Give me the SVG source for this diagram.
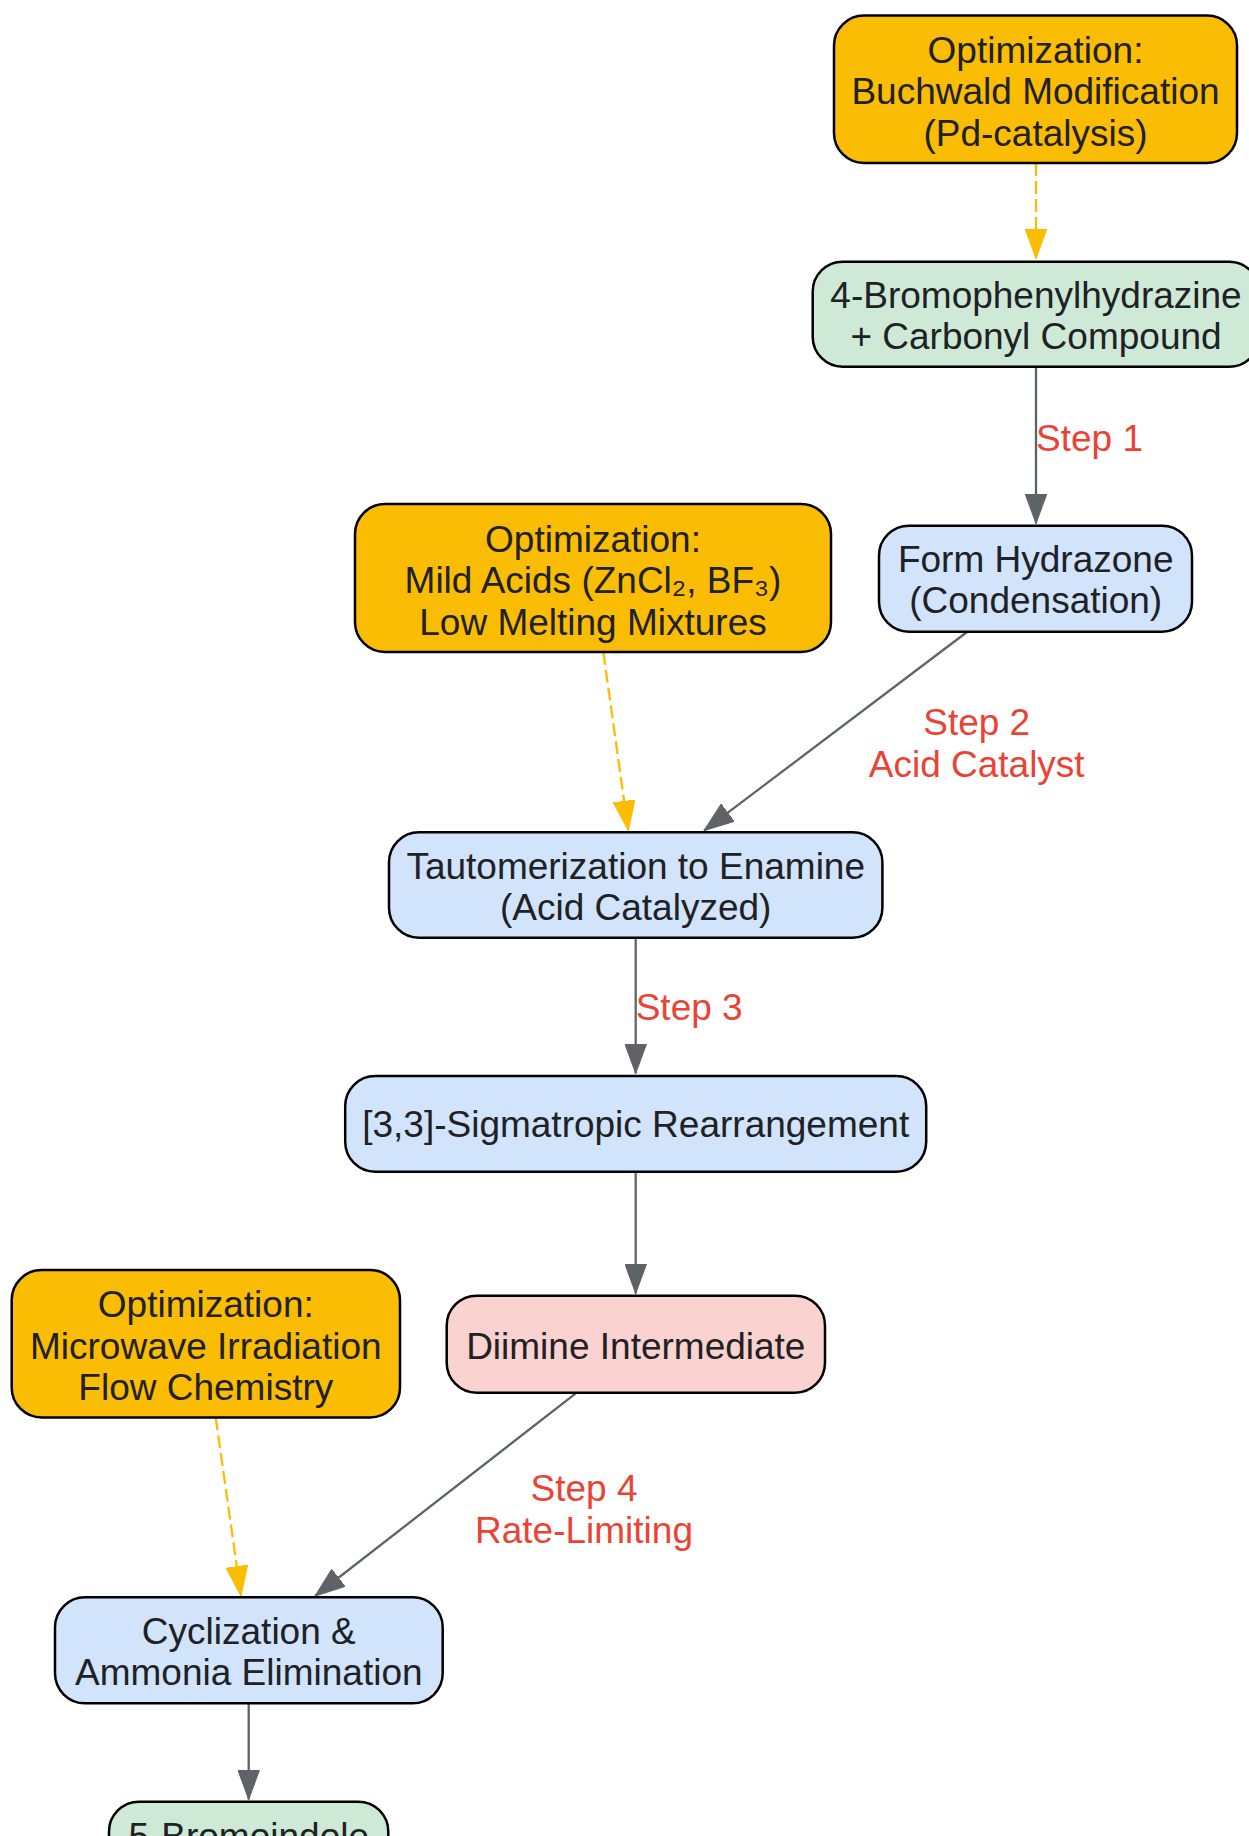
<svg xmlns="http://www.w3.org/2000/svg" width="1249" height="1836" viewBox="0 0 1249 1836">
<defs>
<style>
.node rect{stroke:#000;stroke-width:2.5}
.opt rect{fill:#fbbc04}
.start rect{fill:#ceead6}
.step rect{fill:#d2e3fc}
.inter rect{fill:#fad2cf}
text{font-family:"Liberation Sans",Arial,Helvetica,sans-serif;font-size:37px}
.node text{fill:#202124;text-anchor:middle}
.lbl{fill:#ea4335}
.e{fill:none;stroke:#5f6368;stroke-width:2.3}
.d{fill:none;stroke:#fbbc04;stroke-width:2.3;stroke-dasharray:13,5}
</style>
<marker id="ag" markerUnits="userSpaceOnUse" markerWidth="30" markerHeight="22" viewBox="0 0 30 22" refX="30" refY="11" orient="auto">
<path d="M0,0 L30,11 L0,22 z" fill="#5f6368" stroke="#5f6368" stroke-width="1"/>
</marker>
<marker id="ay" markerUnits="userSpaceOnUse" markerWidth="30" markerHeight="22" viewBox="0 0 30 22" refX="30" refY="11" orient="auto">
<path d="M0,0 L30,11 L0,22 z" fill="#fbbc04" stroke="#fbbc04" stroke-width="1"/>
</marker>
</defs>
<rect width="1249" height="1836" fill="#fff"/>
<g id="connectors">
<path class="d" d="M1036,163 L1036,258.5" marker-end="url(#ay)"/>
<path class="e" d="M1036,367 L1036,523.5" marker-end="url(#ag)"/>
<path class="e" d="M967,632 L704,830.7" marker-end="url(#ag)"/>
<path class="d" d="M603.3,652 L628.3,830.7" marker-end="url(#ay)"/>
<path class="e" d="M635.7,938 L635.7,1073.5" marker-end="url(#ag)"/>
<path class="e" d="M635.7,1172 L635.7,1293.5" marker-end="url(#ag)"/>
<path class="e" d="M576.7,1392.7 L315,1596" marker-end="url(#ag)"/>
<path class="d" d="M215.7,1417.5 L241,1596" marker-end="url(#ay)"/>
<path class="e" d="M248.7,1703.5 L248.7,1799.5" marker-end="url(#ag)"/>
<text class="lbl" x="1036" y="450.7">Step 1</text>
<text class="lbl" x="976.7" y="735" text-anchor="middle">Step 2</text>
<text class="lbl" x="976.7" y="776.7" text-anchor="middle">Acid Catalyst</text>
<text class="lbl" x="635.7" y="1020">Step 3</text>
<text class="lbl" x="584" y="1501" text-anchor="middle">Step 4</text>
<text class="lbl" x="584" y="1543" text-anchor="middle">Rate-Limiting</text>
</g>
<g id="opt-buchwald" class="node opt">
<rect x="834" y="15.5" width="403" height="147.5" rx="30"/>
<text x="1035.5" y="62.5">Optimization:</text>
<text x="1035.5" y="104">Buchwald Modification</text>
<text x="1035.5" y="145.5">(Pd-catalysis)</text>
</g>
<g id="start" class="node start">
<rect x="812.7" y="261.7" width="446.6" height="105" rx="30"/>
<text x="1036" y="308">4-Bromophenylhydrazine</text>
<text x="1036" y="349">+ Carbonyl Compound</text>
</g>
<g id="hydrazone" class="node step">
<rect x="879" y="525.7" width="313" height="106" rx="30"/>
<text x="1035.7" y="572">Form Hydrazone</text>
<text x="1035.7" y="613">(Condensation)</text>
</g>
<g id="opt-acids" class="node opt">
<rect x="355" y="504" width="476" height="148" rx="30"/>
<text x="593" y="551.5">Optimization:</text>
<text x="593" y="593">Mild Acids (ZnCl₂, BF₃)</text>
<text x="593" y="634.5">Low Melting Mixtures</text>
</g>
<g id="enamine" class="node step">
<rect x="389" y="832.3" width="493.4" height="105.4" rx="30"/>
<text x="635.7" y="879.3">Tautomerization to Enamine</text>
<text x="635.7" y="920">(Acid Catalyzed)</text>
</g>
<g id="sigmatropic" class="node step">
<rect x="345.2" y="1076" width="581" height="95.7" rx="30"/>
<text x="635.7" y="1137">[3,3]-Sigmatropic Rearrangement</text>
</g>
<g id="diimine" class="node inter">
<rect x="446.7" y="1295.7" width="378.3" height="97" rx="30"/>
<text x="635.8" y="1359">Diimine Intermediate</text>
</g>
<g id="opt-microwave" class="node opt">
<rect x="11.7" y="1270" width="388.3" height="147.5" rx="30"/>
<text x="205.8" y="1317">Optimization:</text>
<text x="205.8" y="1358.5">Microwave Irradiation</text>
<text x="205.8" y="1400">Flow Chemistry</text>
</g>
<g id="cyclization" class="node step">
<rect x="55" y="1597.3" width="387.7" height="106" rx="30"/>
<text x="248.8" y="1644">Cyclization &amp;</text>
<text x="248.8" y="1685">Ammonia Elimination</text>
</g>
<g id="product" class="node start">
<rect x="109" y="1801.7" width="279.3" height="106" rx="30"/>
<text x="248.7" y="1849">5-Bromoindole</text>
</g>
</svg>
